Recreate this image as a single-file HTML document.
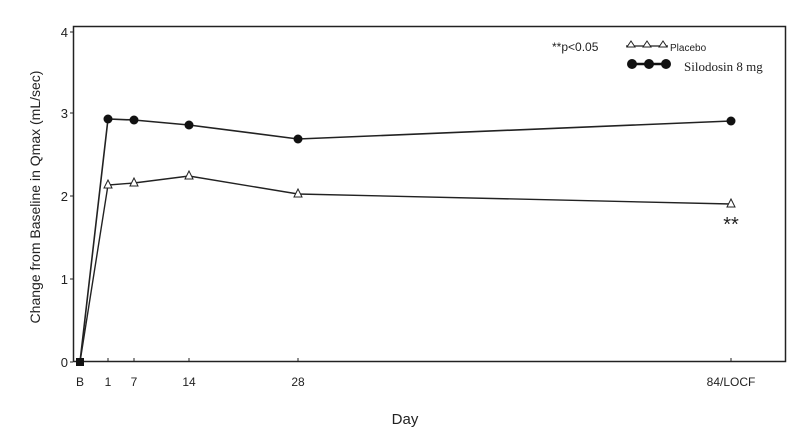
<!DOCTYPE html><html><head><style>body{margin:0;background:#fff}svg{display:block}text{font-family:"Liberation Sans",sans-serif;fill:#222}</style></head><body>
<svg width="811" height="434" xmlns="http://www.w3.org/2000/svg">
<rect x="73.5" y="26.5" width="712" height="335" fill="none" stroke="#222" stroke-width="1.5"/>
<g font-size="13" text-anchor="end">
<text x="68" y="367">0</text><text x="68" y="284">1</text><text x="68" y="201">2</text><text x="68" y="118">3</text><text x="68" y="37">4</text>
</g>
<g stroke="#222"><line x1="70" y1="362" x2="73" y2="362"/><line x1="70" y1="279" x2="73" y2="279"/><line x1="70" y1="196" x2="73" y2="196"/><line x1="70" y1="113" x2="73" y2="113"/><line x1="70" y1="32" x2="73" y2="32"/>
<line x1="108" y1="362" x2="108" y2="358"/><line x1="134" y1="362" x2="134" y2="358"/><line x1="189" y1="362" x2="189" y2="358"/><line x1="298" y1="362" x2="298" y2="358"/><line x1="731" y1="362" x2="731" y2="358"/></g>
<g font-size="12" text-anchor="middle"><text x="80" y="386">B</text><text x="108" y="386">1</text><text x="134" y="386">7</text><text x="189" y="386">14</text><text x="298" y="386">28</text><text x="731" y="386">84/LOCF</text></g>
<text x="405" y="424" font-size="15" text-anchor="middle">Day</text>
<text transform="translate(40,197) rotate(-90)" font-size="14" text-anchor="middle">Change from Baseline in Qmax (mL/sec)</text>
<polyline points="80,362 108,119 134,120 189,125 298,139 731,121" fill="none" stroke="#222" stroke-width="1.6"/>
<polyline points="80,362 108,185 134,183 189,176 298,194 731,204" fill="none" stroke="#222" stroke-width="1.4"/>
<g fill="#111"><circle cx="108" cy="119" r="4.5"/><circle cx="134" cy="120" r="4.5"/><circle cx="189" cy="125" r="4.5"/><circle cx="298" cy="139" r="4.5"/><circle cx="731" cy="121" r="4.5"/><rect x="76" y="358" width="8" height="8"/></g>
<g fill="#fff" stroke="#222" stroke-width="1"><polygon points="108,180 104,188 112,188"/><polygon points="134,178 130,186 138,186"/><polygon points="189,171 185,179 193,179"/><polygon points="298,189 294,197 302,197"/><polygon points="731,199 727,207 735,207"/></g>
<text x="731" y="231" font-size="20" text-anchor="middle">**</text>
<text x="552" y="51" font-size="12">**p&lt;0.05</text>
<line x1="626" y1="46" x2="668" y2="46" stroke="#222" stroke-width="1.2"/>
<g fill="#fff" stroke="#222"><polygon points="631,41 627,47 635,47"/><polygon points="647,41 643,47 651,47"/><polygon points="663,41 659,47 667,47"/></g>
<text x="670" y="51" font-size="10">Placebo</text>
<line x1="630" y1="64" x2="668" y2="64" stroke="#111" stroke-width="2.5"/>
<g fill="#111"><circle cx="632" cy="64" r="5"/><circle cx="649" cy="64" r="5"/><circle cx="666" cy="64" r="5"/></g>
<text x="684" y="71" font-size="13" style="font-family:'Liberation Serif',serif">Silodosin 8 mg</text>
</svg></body></html>
